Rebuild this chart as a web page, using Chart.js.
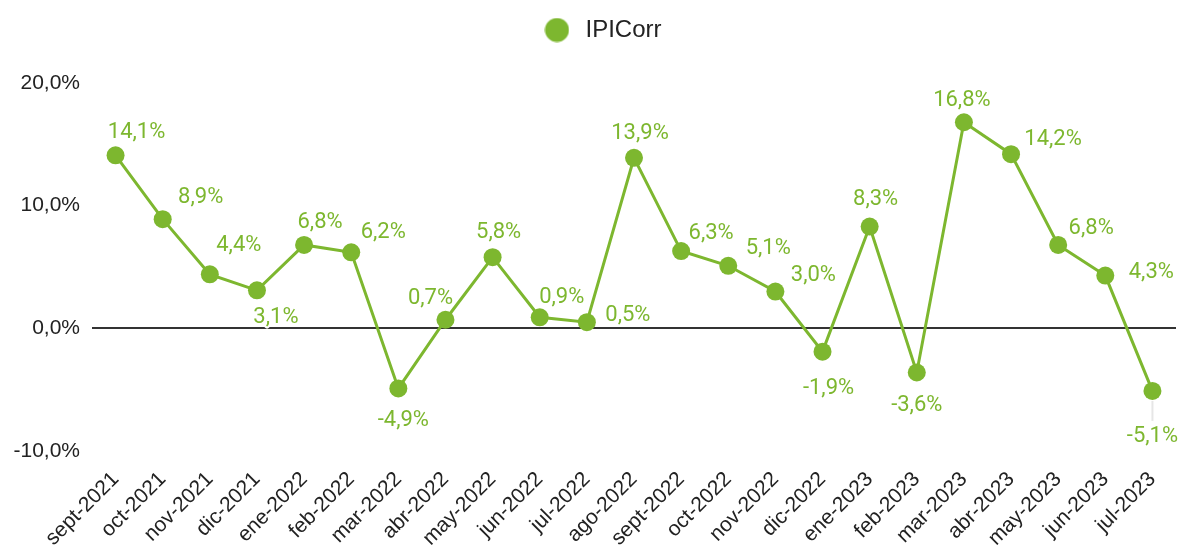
<!DOCTYPE html>
<html>
<head>
<meta charset="utf-8">
<script src="https://cdn.jsdelivr.net/npm/chart.js@4/dist/chart.umd.min.js"></script>
<style>
  html, body { margin: 0; padding: 0; background: #fff; }
  #wrap { width: 1178px; height: 545px; position: relative; }
</style>
</head>
<body>
<div id="wrap"><canvas id="ipiChart"></canvas></div>
<script>
const months = [
  "sept-2021", "oct-2021", "nov-2021", "dic-2021", "ene-2022", "feb-2022",
  "mar-2022", "abr-2022", "may-2022", "jun-2022", "jul-2022", "ago-2022",
  "sept-2022", "oct-2022", "nov-2022", "dic-2022", "ene-2023", "feb-2023",
  "mar-2023", "abr-2023", "may-2023", "jun-2023", "jul-2023"
];
const ipiCorr = [
  14.1, 8.9, 4.4, 3.1, 6.8, 6.2, -4.9, 0.7, 5.8, 0.9, 0.5, 13.9,
  6.3, 5.1, 3.0, -1.9, 8.3, -3.6, 16.8, 14.2, 6.8, 4.3, -5.1
];
const yTicks = [-10, 0, 10, 20];

// where each value label sits, relative to its point (px)
const labelOffsets = [
  [21, -23], [38, -22], [29, -29], [19, 27], [16, -22], [32, -20],
  [5, 32], [-15, -21], [6, -25], [22, -20], [41, -7], [6, -24],
  [30, -18], [40, -17], [38, -16], [6, 37], [6, -27], [0, 33],
  [-2, -22], [42, -15], [33, -16], [46, -3], [0, 46]
];

const green = "#7db72f";
const fmt = (v) => v.toFixed(1).replace(".", ",") + "%";

// legend marker: a plain circle drawn once on a small canvas
const dot = document.createElement("canvas");
dot.width = 25;
dot.height = 25;
const dctx = dot.getContext("2d");
dctx.fillStyle = green;
dctx.beginPath();
dctx.arc(12.5, 12.5, 12, 0, Math.PI * 2);
dctx.fill();

const valueLabels = {
  id: "valueLabels",
  afterDatasetsDraw(chart) {
    const ctx = chart.ctx;
    const pts = chart.getDatasetMeta(0).data;
    ctx.save();
    ctx.font = "22px Roboto";
    ctx.textAlign = "center";
    ctx.textBaseline = "middle";
    pts.forEach((p, i) => {
      const [dx, dy] = labelOffsets[i];
      if (Math.abs(dy) > 40) {
        ctx.strokeStyle = "#e6e6e6";
        ctx.lineWidth = 2;
        ctx.beginPath();
        ctx.moveTo(p.x, p.y + Math.sign(dy) * 10);
        ctx.lineTo(p.x + dx, p.y + dy - Math.sign(dy) * 16);
        ctx.stroke();
      }
      const txt = fmt(ipiCorr[i]);
      ctx.lineWidth = 4;
      ctx.lineJoin = "round";
      ctx.strokeStyle = "#fff";
      ctx.strokeText(txt, p.x + dx, p.y + dy);
      ctx.fillStyle = green;
      ctx.fillText(txt, p.x + dx, p.y + dy);
    });
    ctx.restore();
  },
};

// extra room under the legend, and nudge it a bit right
const legendGap = {
  id: "legendGap",
  beforeInit(chart) {
    const fit = chart.legend.fit;
    chart.legend.fit = function () {
      fit.bind(chart.legend)();
      this.height += 31;
    };
  },
  beforeDraw(chart) {
    chart.legend.left = 26;
  },
};

new Chart(document.getElementById("ipiChart"), {
  type: "line",
  data: {
    labels: months,
    datasets: [
      {
        label: "IPICorr",
        data: ipiCorr,
        borderColor: green,
        backgroundColor: green,
        borderWidth: 3,
        pointRadius: 9,
        pointHoverRadius: 9,
        pointBorderWidth: 0,
        tension: 0,
        clip: false,
      },
    ],
  },
  options: {
    responsive: true,
    maintainAspectRatio: false,
    animation: false,
    layout: { autoPadding: false, padding: { top: 8, right: 2, left: 0, bottom: 0 } },
    plugins: {
      legend: {
        position: "top",
        labels: {
          usePointStyle: true,
          pointStyle: dot,
          pointStyleWidth: 33,
          boxHeight: 17,
          color: "#222",
          font: { family: "'Liberation Sans', Arial", size: 24 },
        },
      },
      tooltip: { enabled: false },
    },
    scales: {
      x: {
        offset: true,
        grid: { display: false, drawTicks: true, tickLength: 16 },
        border: { display: false },
        ticks: {
          autoSkip: false,
          minRotation: 45,
          maxRotation: 45,
          padding: 0,
          color: "#222",
          font: { family: "'Liberation Sans', Arial", size: 21 },
        },
        afterFit(scale) {
          scale.height = 94;
          scale.paddingLeft = 0;
          scale.paddingRight = 0;
        },
      },
      y: {
        min: -10,
        max: 20,
        afterBuildTicks(scale) {
          scale.ticks = yTicks.map((v) => ({ value: v }));
        },
        grid: {
          drawTicks: false,
          color: (c) => (c.tick && c.tick.value === 0 ? "#333" : "rgba(0,0,0,0)"),
          lineWidth: (c) => (c.tick && c.tick.value === 0 ? 2 : 0),
        },
        border: { display: false },
        ticks: {
          padding: 12,
          color: "#222",
          font: { family: "'Liberation Sans', Arial", size: 21 },
          callback: (v) => fmt(v),
        },
        afterFit(scale) {
          scale.width = 92;
        },
      },
    },
  },
  plugins: [valueLabels, legendGap],
});
</script>
</body>
</html>
